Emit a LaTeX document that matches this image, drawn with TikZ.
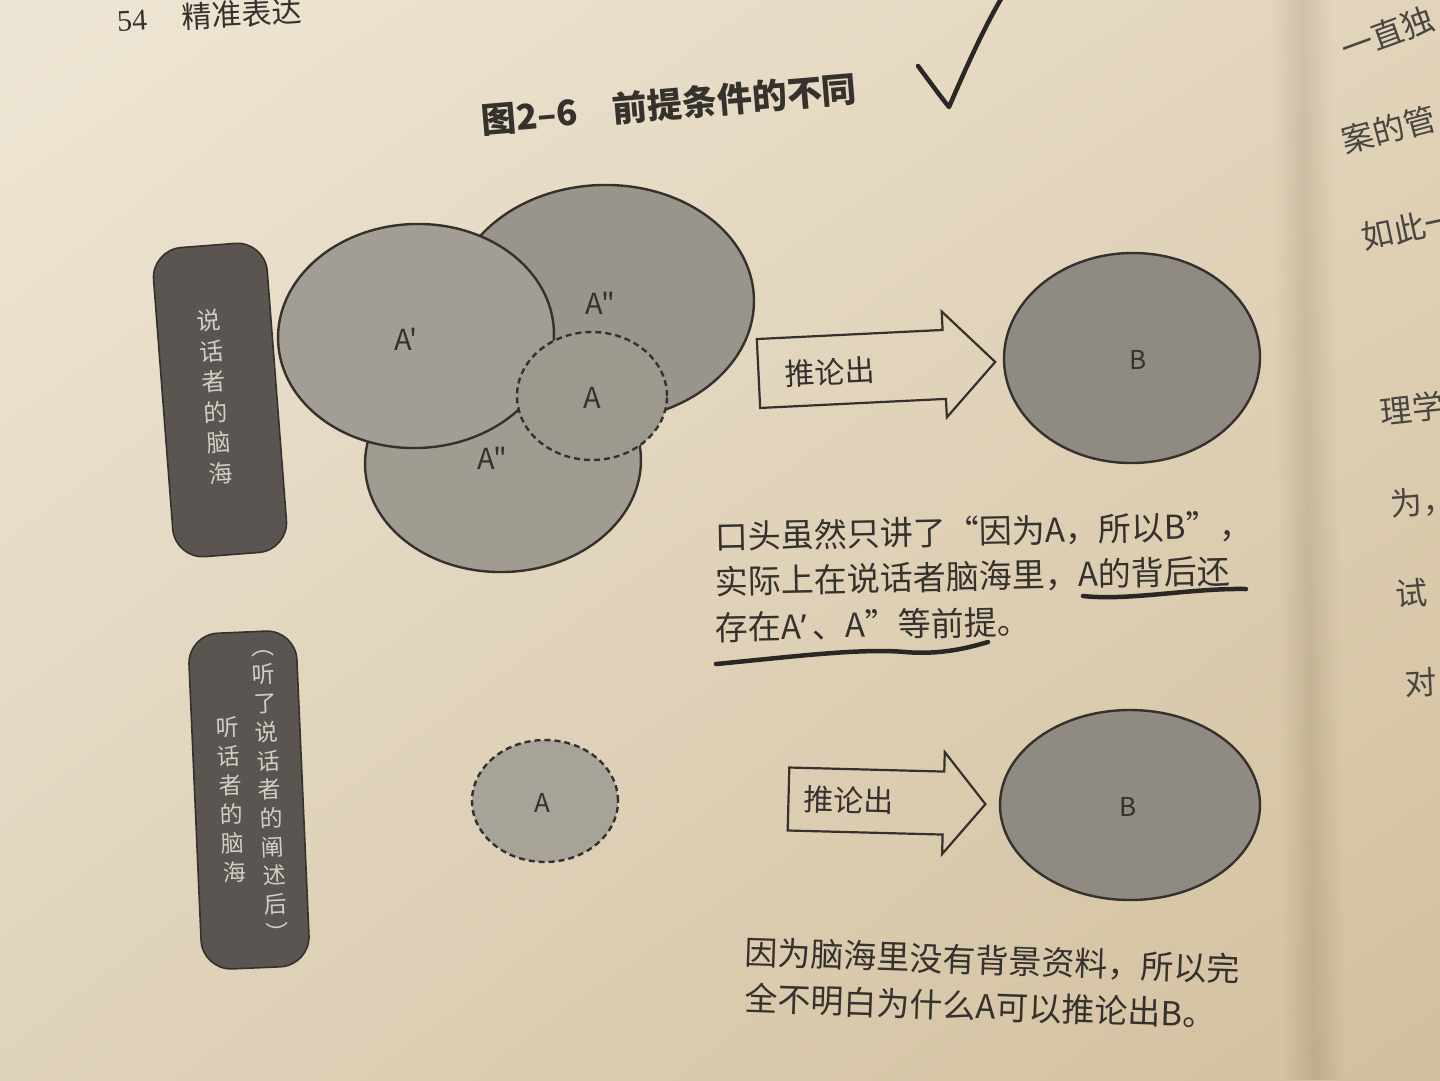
\documentclass[tikz,border=0pt]{standalone}
\usepackage{fontspec}
\usetikzlibrary{shapes.geometric,shadings}
\newfontfamily\cjk{Noto Sans CJK SC}
\newfontfamily\latinsans{Noto Sans}
\newfontfamily\numserif{Liberation Serif}

\definecolor{paperTL}{HTML}{EEE6D5}
\definecolor{paperTR}{HTML}{E2D4BA}
\definecolor{paperBL}{HTML}{E0D3BB}
\definecolor{paperBR}{HTML}{D2BF9E}
\definecolor{ink}{HTML}{35312D}
\definecolor{pen}{HTML}{2A2725}
\definecolor{boxfill}{HTML}{5A5550}
\definecolor{boxtext}{HTML}{D2CDC5}
\definecolor{fillPrime}{HTML}{A39E95}
\definecolor{fillUp}{HTML}{9A958C}
\definecolor{fillLow}{HTML}{A19C92}
\definecolor{fillCore}{HTML}{9E998F}
\definecolor{fillB}{HTML}{8F8A82}
\definecolor{fillSolo}{HTML}{A8A398}

\begin{document}
\begin{tikzpicture}[x=1pt,y=-1pt,
  outline/.style={draw=ink, line width=2.4pt},
  bubble/.style={ellipse, outline, inner sep=0pt},
  dashbubble/.style={ellipse, draw=ink, line width=2.4pt, dash pattern=on 6pt off 4pt, inner sep=0pt},
  mindbox/.style={rectangle, rounded corners=30pt, draw=ink, line width=1.6pt, fill=boxfill, inner sep=0pt},
  tag/.style={font=\cjk\fontsize{29}{29}\selectfont, text=ink, inner sep=0pt},
  smalltag/.style={font=\cjk\fontsize{26}{26}\selectfont, text=ink, inner sep=0pt},
  arrowtext/.style={font=\cjk\fontsize{30}{30}\selectfont, text=ink, inner sep=0pt},
  para/.style={font=\cjk\fontsize{33}{33}\selectfont, text=ink, inner sep=0pt, anchor=west},
  pagetext/.style={font=\cjk\fontsize{32}{32}\selectfont, text=ink!90, inner sep=0pt},
  blockarrow/.style={draw=ink, line width=2.2pt, line join=miter},
  penstroke/.style={draw=pen, line width=4.5pt, line cap=round, line join=round}
]
% paper
\useasboundingbox (0,0) rectangle (1440,1080);
\shade[upper left=paperTL, upper right=paperTR, lower left=paperBL, lower right=paperBR]
  (0,0) rectangle (1440,1080);
% soft fold towards the facing page
\foreach \i in {0,...,9}
  \fill[black, opacity=0.006] (1272+3*\i,0) -- (1332-3*\i,0) -- (1345-3*\i,1080) -- (1285+3*\i,1080) -- cycle;

% running head
\node[font=\numserif\fontsize{30}{30}\selectfont, text=ink, inner sep=0pt, rotate=3] (folio) at (132,21) {54};
\node[font=\cjk\fontsize{30}{30}\selectfont, text=ink, inner sep=0pt, rotate=3] (runhead) at (242,14) {精准表达};

% figure title
\node[font=\cjk\bfseries\fontsize{35}{35}\selectfont, text=ink, inner sep=0pt, rotate=4.8] (title) at (669,104) {图2–6　前提条件的不同};

% speaker's mind: labels box
\node[mindbox, minimum width=114pt, minimum height=310pt, rotate=4.4] (speakerbox) at (220,400) {};
\node[font=\cjk\fontsize{24}{30.6}\selectfont, text=boxtext, align=center, inner sep=0pt, rotate=4.4] (speakerlabel) at (215,397)
  {说\\话\\者\\的\\脑\\海};

% speaker's mind: premises around A
\node[bubble, fill=fillLow, minimum width=276pt, minimum height=220pt, rotate=2] (aLow) at (503,462) {};
\node[bubble, fill=fillUp, minimum width=302pt, minimum height=236pt, rotate=2] (aUp) at (603,303) {};
\node[bubble, fill=fillPrime, minimum width=276pt, minimum height=224pt, rotate=2] (aPrime) at (416,336) {};
\node[dashbubble, fill=fillCore, minimum width=150pt, minimum height=128pt] (aCore) at (592,396) {};

\node[tag] (lblPrime) at (406,339) {A'};
\node[tag] (lblUp) at (600,303) {A"};
\node[tag] (lblCore) at (592,398) {A};
\node[tag] (lblLow) at (492,458) {A"};

% speaker: inference arrow and conclusion
\begin{scope}[shift={(758.5,373.5)}, rotate=2.8]
  \draw[blockarrow] (0,-34.5) -- (186,-34.5) -- (186,-53) -- (237,0) -- (186,53) -- (186,34.5) -- (0,34.5) -- cycle;
\end{scope}
\node[arrowtext, rotate=2.8] (inferTop) at (830,372) {推论出};
\node[bubble, fill=fillB, minimum width=256pt, minimum height=210pt, rotate=1] (bTop) at (1132,358) {};
\node[smalltag] (lblBTop) at (1138,360) {B};

% speaker: explanation
\node[para, rotate=1.2] (noteA1) at (715,537) {口头虽然只讲了“因为A，所以B”，};
\node[para, rotate=1.2] (noteA2) at (715,582) {实际上在说话者脑海里，A的背后还};
\node[para, rotate=1.2] (noteA3) at (715,628) {存在A{\latinsans ’}\,、A”等前提。};

% listener's mind: labels box
\node[mindbox, minimum width=108pt, minimum height=336pt, rotate=2.5] (listenerbox) at (249,800) {};
\node[font=\cjk\fontsize{23}{28.75}\selectfont, text=boxtext, align=center, inner sep=0pt, rotate=3] (listenernote) at (270,796)
  {︵\\听\\了\\说\\话\\者\\的\\阐\\述\\后\\︶};
\node[font=\cjk\fontsize{23}{29}\selectfont, text=boxtext, align=center, inner sep=0pt, rotate=2.5] (listenerlabel) at (231,800)
  {听\\话\\者\\的\\脑\\海};

% listener: A only
\node[dashbubble, fill=fillSolo, minimum width=146pt, minimum height=122pt] (aSolo) at (545,801) {};
\node[smalltag] (lblSolo) at (542,803) {A};

% listener: inference arrow and conclusion
\begin{scope}[shift={(788.5,799)}, rotate=-1.5]
  \draw[blockarrow] (0,-31.5) -- (155,-31.5) -- (155,-51) -- (197,0) -- (155,51) -- (155,31.5) -- (0,31.5) -- cycle;
\end{scope}
\node[arrowtext, rotate=-1.5] (inferBottom) at (849,800) {推论出};
\node[bubble, fill=fillB, minimum width=260pt, minimum height=190pt] (bBottom) at (1130,805) {};
\node[smalltag] (lblBBottom) at (1128,807) {B};

% listener: explanation
\node[para, rotate=-2] (noteB1) at (745,952) {因为脑海里没有背景资料，所以完};
\node[para, rotate=-2] (noteB2) at (745,998) {全不明白为什么A可以推论出B。};

% pen marks
\draw[penstroke] (918,66) .. controls (930,82) and (940,96) .. (949,107) .. controls (965,70) and (985,25) .. (1004,-6);
\draw[penstroke] (1083,596) .. controls (1130,601) and (1190,588) .. (1246,589);
\draw[penstroke] (716,664) .. controls (790,657) and (860,648) .. (905,652) .. controls (940,655) and (968,648) .. (988,642);

% facing page, cut at the edge
\node[pagetext, rotate=20, anchor=west] (fp1) at (1342,50) {一直独};
\node[pagetext, rotate=15, anchor=west] (fp2) at (1342,142) {案的管};
\node[pagetext, rotate=12, anchor=west] (fp3) at (1362,238) {如此一};
\node[pagetext, rotate=6, anchor=west] (fp4) at (1380,412) {理学};
\node[pagetext, rotate=5, anchor=west] (fp5) at (1390,505) {为，};
\node[pagetext, rotate=4, anchor=west] (fp6) at (1395,594) {试};
\node[pagetext, rotate=3, anchor=west] (fp7) at (1405,683) {对};
\end{tikzpicture}
\end{document}
